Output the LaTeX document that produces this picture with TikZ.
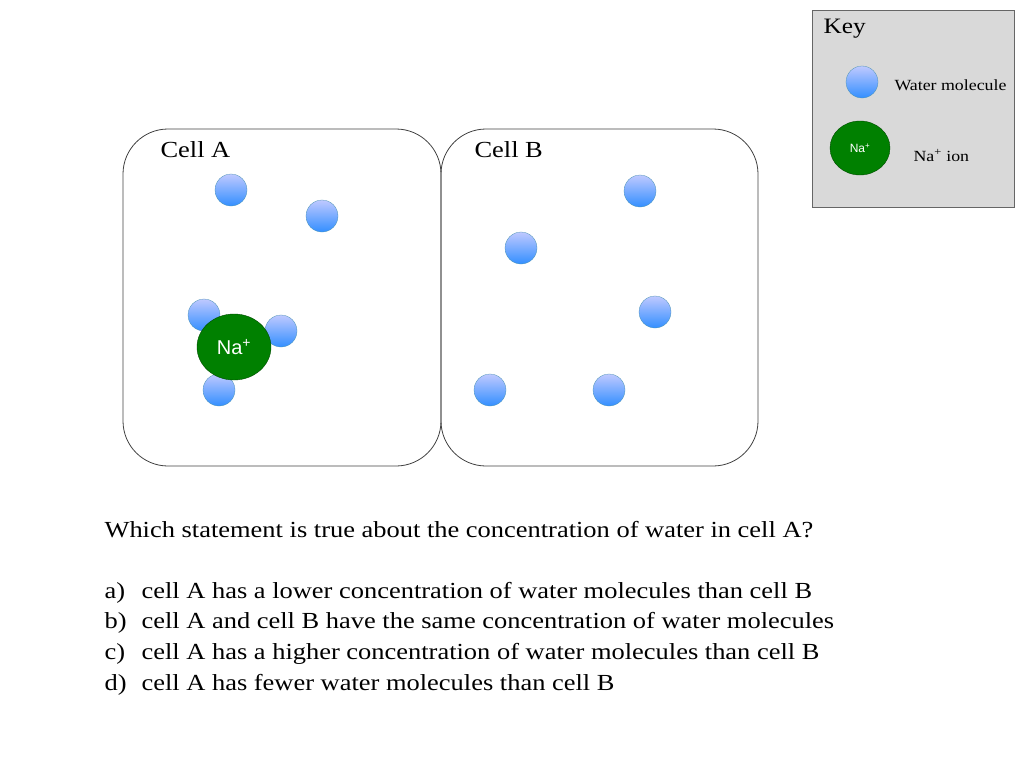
\documentclass[tikz,border=0pt]{standalone}
\usepackage{fontspec}
\setmainfont[FakeStretch=1.15]{Liberation Serif}
\newfontfamily\sansf{Liberation Sans}
\usetikzlibrary{shapes.geometric}
\begin{document}
\begin{tikzpicture}[x=1pt,y=-1pt,
  water/.style={circle,minimum size=32pt,inner sep=0pt,draw=blue!30!cyan!40!gray,line width=0.3pt,top color=cyan!15!blue!25!white,bottom color=blue!55!cyan!80!white,shading angle=0},
  ion/.style={ellipse,draw=green!30!black,line width=0.4pt,fill=green!50!black,text=white,font=\sansf,inner sep=0pt},
  cell/.style={draw=black!75,rounded corners=45pt,line width=0.8pt},
  txt/.style={anchor=base west,font=\fontsize{23}{27}\selectfont}]
\useasboundingbox (0,0) rectangle (1024,768);
% key
\node[draw=black!60,fill=black!15,minimum width=202pt,minimum height=197pt,anchor=north west,inner sep=0pt] (key) at (812,10) {};
\node[anchor=base west,font=\fontsize{22}{26}\selectfont] (keyt) at (820,34) {Key};
\node[water] (kw) at (862,82) {};
\node[anchor=base west,font=\fontsize{15.5}{18}\selectfont] (kwt) at (891,90) {Water molecule};
\node[ion,minimum width=60pt,minimum height=54pt,font=\sansf\fontsize{12}{14}\selectfont] (kn) at (860,148) {Na\textsuperscript{+}};
\node[anchor=base west,font=\fontsize{15.5}{18}\selectfont] (knt) at (910,161) {Na\textsuperscript{+} ion};
% cells
\draw[cell] (123,129) rectangle (441,466);
\draw[cell] (441,129) rectangle (758,466);
\node[txt] (ca) at (157,157) {Cell A};
\node[txt] (cb) at (471,157) {Cell B};
% cell A
\node[water] (a1) at (231,190) {};
\node[water] (a2) at (322,216) {};
\node[water] (a3) at (204,315) {};
\node[water] (a4) at (281,331) {};
\node[water] (a5) at (219,390) {};
\node[ion,minimum width=74pt,minimum height=66pt,font=\sansf\fontsize{20}{24}\selectfont] (na) at (234,347) {Na\textsuperscript{+}};
% cell B
\node[water] (b1) at (640,191) {};
\node[water] (b2) at (521,248) {};
\node[water] (b3) at (655,312) {};
\node[water] (b4) at (490,390) {};
\node[water] (b5) at (609,390) {};
% question
\node[txt] (q) at (101,537) {Which statement is true about the concentration of water in cell A?};
\node[txt] (la) at (101,598) {a)};
\node[txt] (ta) at (138,598) {cell A has a lower concentration of water molecules than cell B};
\node[txt] (lb) at (101,628) {b)};
\node[txt] (tb) at (138,628) {cell A and cell B have the same concentration of water molecules};
\node[txt] (lc) at (101,659) {c)};
\node[txt] (tc) at (138,659) {cell A has a higher concentration of water molecules than cell B};
\node[txt] (ld) at (101,690) {d)};
\node[txt] (td) at (138,690) {cell A has fewer water molecules than cell B};
\end{tikzpicture}
\end{document}
